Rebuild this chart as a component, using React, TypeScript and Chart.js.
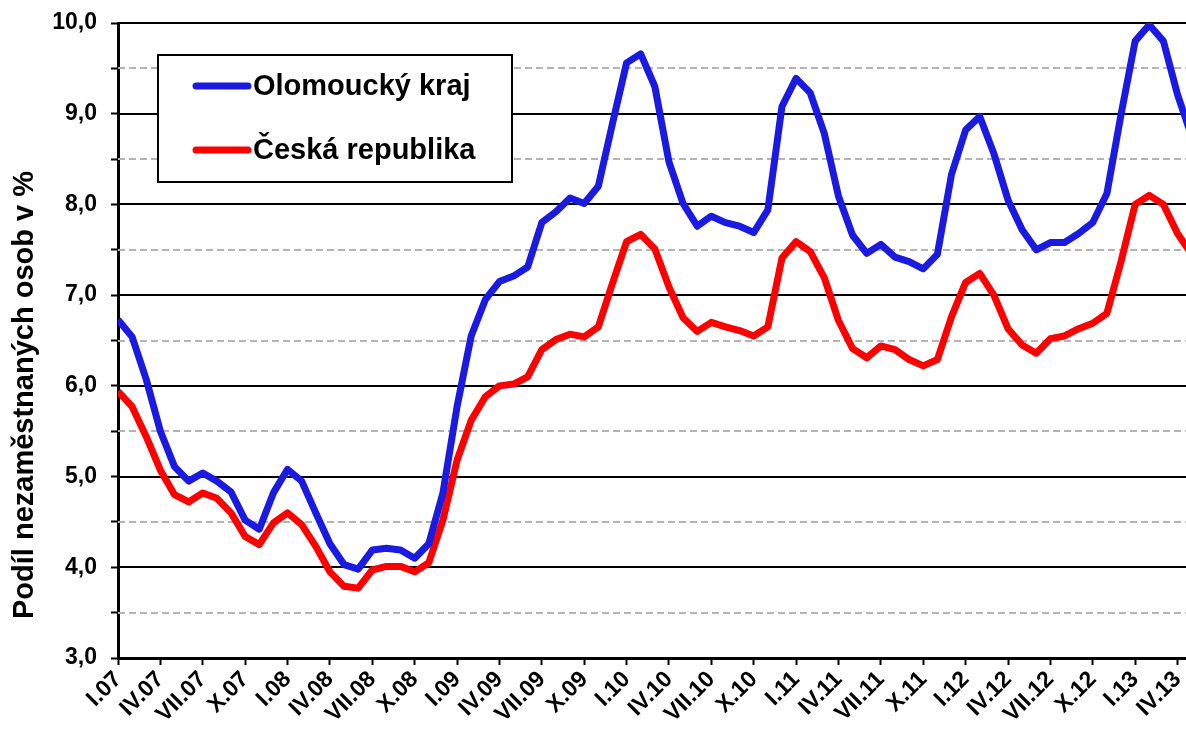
import React, { useEffect, useRef } from "react";
import { Chart, registerables } from "chart.js";

Chart.register(...registerables);

// Monthly categories I.07 … V.13
const categories: string[] = [
  "I.07", "II.07", "III.07", "IV.07", "V.07", "VI.07", "VII.07", "VIII.07", "IX.07", "X.07", "XI.07", "XII.07",
  "I.08", "II.08", "III.08", "IV.08", "V.08", "VI.08", "VII.08", "VIII.08", "IX.08", "X.08", "XI.08", "XII.08",
  "I.09", "II.09", "III.09", "IV.09", "V.09", "VI.09", "VII.09", "VIII.09", "IX.09", "X.09", "XI.09", "XII.09",
  "I.10", "II.10", "III.10", "IV.10", "V.10", "VI.10", "VII.10", "VIII.10", "IX.10", "X.10", "XI.10", "XII.10",
  "I.11", "II.11", "III.11", "IV.11", "V.11", "VI.11", "VII.11", "VIII.11", "IX.11", "X.11", "XI.11", "XII.11",
  "I.12", "II.12", "III.12", "IV.12", "V.12", "VI.12", "VII.12", "VIII.12", "IX.12", "X.12", "XI.12", "XII.12",
  "I.13", "II.13", "III.13", "IV.13", "V.13",
];

// Labels shown on the axis (every third month)
const tickLabels: string[] = [
  "I.07", "IV.07", "VII.07", "X.07", "I.08", "IV.08", "VII.08", "X.08", "I.09", "IV.09", "VII.09", "X.09",
  "I.10", "IV.10", "VII.10", "X.10", "I.11", "IV.11", "VII.11", "X.11", "I.12", "IV.12", "VII.12", "X.12",
  "I.13", "IV.13",
];

const olomouckyKraj: number[] = [
  6.73, 6.54, 6.07, 5.50, 5.11, 4.95, 5.04, 4.95, 4.83, 4.52, 4.42, 4.82,
  5.08, 4.95, 4.60, 4.26, 4.03, 3.98, 4.19, 4.21, 4.19, 4.10, 4.26, 4.82,
  5.77, 6.55, 6.95, 7.15, 7.21, 7.31, 7.80, 7.92, 8.07, 8.01, 8.20, 8.89,
  9.56, 9.66, 9.30, 8.47, 8.01, 7.76, 7.87, 7.80, 7.76, 7.69, 7.94, 9.08,
  9.39, 9.23, 8.78, 8.09, 7.66, 7.46, 7.56, 7.42, 7.37, 7.29, 7.45, 8.33,
  8.82, 8.97, 8.56, 8.05, 7.72, 7.50, 7.58, 7.58, 7.68, 7.80, 8.12, 8.99,
  9.80, 9.98, 9.80, 9.21, 8.75,
];

const ceskaRepublika: number[] = [
  5.94, 5.77, 5.44, 5.07, 4.80, 4.72, 4.82, 4.76, 4.60, 4.34, 4.25, 4.49,
  4.60, 4.47, 4.23, 3.95, 3.79, 3.77, 3.97, 4.01, 4.01, 3.95, 4.05, 4.52,
  5.18, 5.62, 5.88, 6.00, 6.02, 6.10, 6.40, 6.51, 6.57, 6.54, 6.65, 7.13,
  7.59, 7.67, 7.51, 7.09, 6.75, 6.60, 6.70, 6.65, 6.61, 6.55, 6.65, 7.41,
  7.59, 7.48, 7.19, 6.72, 6.41, 6.31, 6.44, 6.40, 6.29, 6.22, 6.29, 6.76,
  7.14, 7.24, 7.00, 6.63, 6.45, 6.36, 6.52, 6.55, 6.63, 6.69, 6.80, 7.37,
  8.00, 8.10, 8.00, 7.68, 7.45,
];

const seriesNames: string[] = ["Olomoucký kraj", "Česká republika"];
const yAxisTitle = "Podíl nezaměstnaných osob v %";

const FONT = "'Liberation Sans', Arial, sans-serif";

const gridPlugin = {
  id: "customGrid",
  beforeDatasetsDraw(chart: any) {
    const { ctx, chartArea, scales } = chart;
    const y = scales.y;
    ctx.save();
    for (const t of y.ticks) {
      const v = t.value;
      if (v <= y.min + 1e-9) continue;
      const py = Math.round(y.getPixelForValue(v));
      ctx.beginPath();
      if (Math.abs(v - Math.round(v)) < 1e-6) {
        ctx.setLineDash([]);
        ctx.strokeStyle = "#000";
        ctx.lineWidth = 2;
      } else {
        ctx.setLineDash([7, 4]);
        ctx.strokeStyle = "#b4b4b4";
        ctx.lineWidth = 2;
      }
      ctx.moveTo(chartArea.left, py);
      ctx.lineTo(chartArea.right, py);
      ctx.stroke();
    }
    ctx.restore();
  },
};

const decorPlugin = {
  id: "decor",
  afterDraw(chart: any) {
    const { ctx } = chart;
    ctx.save();
    // Y axis title
    ctx.translate(25, 395);
    ctx.rotate(-Math.PI / 2);
    ctx.fillStyle = "#000";
    ctx.font = `bold 29px ${FONT}`;
    ctx.textAlign = "center";
    ctx.textBaseline = "middle";
    ctx.fillText(yAxisTitle, 0, 0);
    ctx.restore();

    // Legend box
    ctx.save();
    const bx = 158, by = 55, bw = 354, bh = 127;
    ctx.fillStyle = "#fff";
    ctx.fillRect(bx, by, bw, bh);
    ctx.strokeStyle = "#000";
    ctx.lineWidth = 2;
    ctx.strokeRect(bx, by, bw, bh);
    const rows = [86, 150];
    chart.data.datasets.forEach((ds: any, i: number) => {
      const ry = rows[i];
      ctx.beginPath();
      ctx.strokeStyle = ds.borderColor;
      ctx.lineWidth = 7;
      ctx.lineCap = "round";
      ctx.moveTo(196, ry);
      ctx.lineTo(248, ry);
      ctx.stroke();
      ctx.fillStyle = "#000";
      ctx.font = `bold 29px ${FONT}`;
      ctx.textAlign = "left";
      ctx.textBaseline = "middle";
      ctx.fillText(ds.label, 253, ry + 1);
    });
    ctx.restore();
  },
};

export default function App() {
  const canvasRef = useRef<HTMLCanvasElement | null>(null);

  useEffect(() => {
    document.body.style.margin = "0";
    const canvas = canvasRef.current;
    if (!canvas) return;
    const chart = new Chart(canvas, {
      type: "line",
      data: {
        labels: categories,
        datasets: [
          {
            label: seriesNames[0],
            data: olomouckyKraj.map((v, i) => ({ x: i, y: v })),
            borderColor: "#1a1ae0",
            borderWidth: 7,
            pointRadius: 0,
            tension: 0,
            borderJoinStyle: "round",
            fill: false,
          },
          {
            label: seriesNames[1],
            data: ceskaRepublika.map((v, i) => ({ x: i, y: v })),
            borderColor: "#ff0000",
            borderWidth: 7,
            pointRadius: 0,
            tension: 0,
            borderJoinStyle: "round",
            fill: false,
          },
        ],
      },
      options: {
        responsive: false,
        animation: false,
        devicePixelRatio: 1,
        layout: { padding: { top: 23, left: 0, right: 0, bottom: 0 } },
        plugins: {
          legend: { display: false },
          tooltip: { enabled: false },
        },
        scales: {
          x: {
            type: "linear",
            min: 0,
            max: 75.6,
            ticks: {
              stepSize: 3,
              autoSkip: false,
              includeBounds: false,
              maxRotation: 45,
              minRotation: 45,
              padding: 1,
              color: "#000",
              font: { family: FONT, size: 23, weight: "bold" },
              callback: (v: any) => {
                const idx = Math.round(Number(v));
                return idx % 3 === 0 ? tickLabels[idx / 3] ?? "" : "";
              },
            },
            grid: {
              drawOnChartArea: false,
              drawTicks: true,
              tickLength: 7,
              tickColor: "#000",
              tickWidth: 2,
            },
            border: { display: true, color: "#000", width: 3 },
            afterFit: (s: any) => {
              s.height = 71;
              s.paddingRight = 0;
              s.paddingLeft = 0;
            },
          },
          y: {
            type: "linear",
            min: 3,
            max: 10,
            ticks: {
              stepSize: 0.5,
              autoSkip: false,
              padding: 14,
              color: "#000",
              font: { family: FONT, size: 23, weight: "bold" },
              callback: (v: any) => {
                const n = Number(v);
                return Math.abs(n - Math.round(n)) < 1e-6 ? n.toFixed(1).replace(".", ",") : "";
              },
            },
            grid: {
              drawOnChartArea: false,
              drawTicks: true,
              tickLength: 7,
              tickColor: "#000",
              tickWidth: 2,
            },
            border: { display: true, color: "#000", width: 3 },
            afterFit: (s: any) => {
              s.width = 118;
              s.paddingTop = 0;
              s.paddingBottom = 0;
            },
          },
        },
      },
      plugins: [gridPlugin, decorPlugin],
    } as any);
    return () => chart.destroy();
  }, []);

  return (
    <div style={{ width: 1186, height: 729, background: "#fff" }}>
      <canvas ref={canvasRef} width={1186} height={729} style={{ display: "block" }} />
    </div>
  );
}
